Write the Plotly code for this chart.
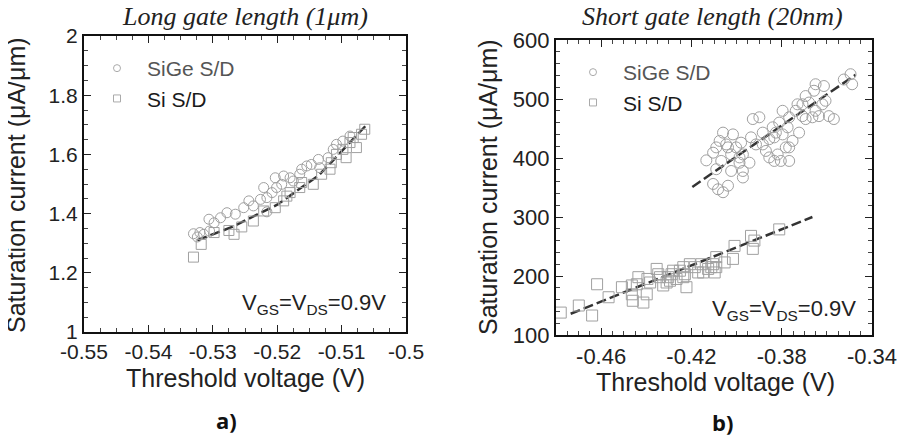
import plotly.graph_objects as go

W, H = 905, 438
PAGE_OFFSET = 8  # the page body margin shifts the figure by 8px

# ---- panel a) long gate length (1um) ----
long_sige_vt = [-0.5330, -0.5324, -0.5320, -0.5314, -0.5306, -0.5305, -0.5298, -0.5288, -0.5278, -0.5265,
                -0.5252, -0.5244, -0.5237, -0.5226, -0.5221, -0.5216, -0.5216, -0.5208, -0.5203, -0.5201,
                -0.5193, -0.5190, -0.5180, -0.5175, -0.5165, -0.5162, -0.5154, -0.5147, -0.5136, -0.5134,
                -0.5121, -0.5113, -0.5108, -0.5098, -0.5087]
long_sige_id = [1.332, 1.321, 1.336, 1.330, 1.381, 1.341, 1.369, 1.386, 1.403, 1.398,
                1.420, 1.443, 1.426, 1.448, 1.488, 1.454, 1.406, 1.471, 1.521, 1.488,
                1.499, 1.527, 1.521, 1.510, 1.533, 1.550, 1.561, 1.566, 1.583, 1.555,
                1.589, 1.617, 1.634, 1.645, 1.662]

long_si_vt = [-0.5330, -0.5318, -0.5298, -0.5275, -0.5267, -0.5255, -0.5237, -0.5221, -0.5203, -0.5190,
              -0.5185, -0.5180, -0.5165, -0.5162, -0.5144, -0.5131, -0.5118, -0.5116, -0.5108, -0.5098,
              -0.5093, -0.5087, -0.5082, -0.5077, -0.5069, -0.5064]
long_si_id = [1.253, 1.296, 1.336, 1.343, 1.330, 1.355, 1.375, 1.409, 1.420, 1.443,
              1.459, 1.471, 1.488, 1.505, 1.499, 1.533, 1.550, 1.572, 1.600, 1.617,
              1.589, 1.640, 1.657, 1.623, 1.668, 1.685]

long_fit_vt = [-0.5324, -0.5270, -0.5200, -0.5135, -0.5059]
long_fit_id = [1.310, 1.355, 1.430, 1.530, 1.705]

# ---- panel b) short gate length (20nm) ----
short_sige_vt = [-0.4134, -0.4104, -0.4090, -0.4075, -0.4060, -0.4038, -0.4024, -0.4016, -0.3987, -0.3980,
                 -0.3972, -0.3987, -0.4104, -0.4082, -0.4060, -0.4038, -0.4090, -0.4068, -0.4024, -0.3972,
                 -0.3943, -0.3936, -0.3928, -0.3899, -0.3914, -0.3884, -0.3870, -0.3855, -0.3840, -0.3833,
                 -0.3818, -0.3811, -0.3796, -0.3782, -0.3774, -0.3767, -0.3752, -0.3738, -0.3730, -0.3723,
                 -0.3708, -0.3694, -0.3694, -0.3679, -0.3664, -0.3657, -0.3650, -0.3635, -0.3620, -0.3613,
                 -0.3591, -0.3569, -0.3525, -0.3495, -0.3488, -0.3833, -0.3804, -0.3767, -0.3767, -0.3826,
                 -0.3972, -0.4002, -0.4046, -0.3884, -0.3855, -0.3796, -0.3708, -0.3606, -0.3650]
short_sige_id = [396, 409, 418, 429, 443, 418, 406, 440, 401, 426,
                 378, 392, 356, 347, 342, 353, 381, 395, 378, 367,
                 392, 435, 466, 469, 423, 443, 412, 432, 452, 435,
                 406, 460, 440, 418, 452, 469, 429, 480, 491, 443,
                 471, 505, 466, 494, 469, 514, 480, 471, 491, 522,
                 471, 466, 533, 542, 525, 395, 395, 395, 418, 443,
                 406, 418, 423, 423, 401, 480, 491, 497, 525]

short_si_vt = [-0.4779, -0.4699, -0.4640, -0.4618, -0.4567, -0.4508, -0.4464, -0.4464, -0.4460, -0.4435,
               -0.4413, -0.4398, -0.4395, -0.4383, -0.4347, -0.4339, -0.4325, -0.4310, -0.4295, -0.4288,
               -0.4281, -0.4266, -0.4236, -0.4229, -0.4222, -0.4207, -0.4185, -0.4170, -0.4156, -0.4126,
               -0.4112, -0.4104, -0.4097, -0.4090, -0.4053, -0.4016, -0.4009, -0.3936, -0.3928, -0.3921,
               -0.3811, -0.4354, -0.4236, -0.4148, -0.4303, -0.4251, -0.4442, -0.4090]
short_si_id = [138, 150, 133, 186, 164, 181, 184, 169, 158, 198,
               155, 169, 195, 189, 203, 198, 184, 189, 192, 203,
               209, 195, 198, 203, 181, 220, 215, 206, 220, 212,
               215, 220, 206, 232, 223, 229, 251, 268, 246, 260,
               279, 212, 215, 206, 198, 209, 186, 215]

short_sige_fit_vt = [-0.4196, -0.3473]
short_sige_fit_id = [351, 541]
short_si_fit_vt = [-0.4735, -0.3664]
short_si_fit_id = [136, 300]

# tick labels (hyphen minus as in the original figure)
long_x_text = ["-0.55", "-0.54", "-0.53", "-0.52", "-0.51", "-0.5"]
short_x_text = ["-0.46", "-0.42", "-0.38", "-0.34"]

FONT = "Liberation Sans, Arial, sans-serif"
MARK = "#a0a0a0"
FIT = "#333333"


def px_x(p):
    return (p - PAGE_OFFSET) / W


def px_y(p):
    return 1 - (p - PAGE_OFFSET) / H


def axis(dom, rng, tick0, dtick, minor_dtick, size, anchor, labels=None):
    ax = dict(
        domain=dom, range=rng, anchor=anchor, automargin=False,
        tickmode="linear", tick0=tick0, dtick=dtick,
        ticks="inside", ticklen=7, tickwidth=1.3, tickcolor="#222",
        minor=dict(ticks="inside", ticklen=4, tickwidth=1, tickcolor="#444",
                   dtick=minor_dtick, tick0=rng[0], showgrid=False),
        showline=True, linewidth=2.2, linecolor="#111", mirror="allticks",
        showgrid=False, zeroline=False,
        tickfont=dict(family=FONT, size=size, color="#222"),
    )
    if labels:
        ax["labelalias"] = {t.replace("-", "\u2212"): t for t in labels}
    return ax


fig = go.Figure()


def scatter(x, y, symbol, size, xa, ya):
    fig.add_trace(go.Scatter(
        x=x, y=y, mode="markers", xaxis=xa, yaxis=ya, showlegend=False,
        marker=dict(symbol=symbol, size=size, color=MARK, line=dict(color=MARK, width=1)),
        hoverinfo="skip"))


def fit(x, y, xa, ya):
    fig.add_trace(go.Scatter(
        x=x, y=y, mode="lines", xaxis=xa, yaxis=ya, showlegend=False,
        line=dict(color=FIT, width=2.5, dash="10px,4px"), hoverinfo="skip"))


def legend_entry(name, symbol, color, xa, ya, leg):
    fig.add_trace(go.Scatter(
        x=[None], y=[None], mode="markers", xaxis=xa, yaxis=ya, legend=leg,
        name=f"<span style='color:{color}'>{name}</span>",
        marker=dict(symbol=symbol, size=7, color="#aaaaaa", line=dict(color="#aaaaaa", width=1))))


# panel a
fit(long_fit_vt, long_fit_id, "x", "y")
scatter(long_sige_vt, long_sige_id, "circle-open", 10, "x", "y")
scatter(long_si_vt, long_si_id, "square-open", 10, "x", "y")
legend_entry("SiGe S/D", "circle-open", "#555", "x", "y", "legend")
legend_entry("Si S/D", "square-open", "#1a1a1a", "x", "y", "legend")

# panel b
fit(short_sige_fit_vt, short_sige_fit_id, "x2", "y2")
fit(short_si_fit_vt, short_si_fit_id, "x2", "y2")
scatter(short_sige_vt, short_sige_id, "circle-open", 11, "x2", "y2")
scatter(short_si_vt, short_si_id, "square-open", 11, "x2", "y2")
legend_entry("SiGe S/D", "circle-open", "#555", "x2", "y2", "legend2")
legend_entry("Si S/D", "square-open", "#1a1a1a", "x2", "y2", "legend2")

leg_style = dict(font=dict(family=FONT, size=21), bgcolor="rgba(0,0,0,0)",
                 xanchor="left", yanchor="top", itemwidth=50, tracegroupgap=0)

annotations = []


def text(t, x, y, size, family=FONT, color="#222", angle=0, bold=False, italic=False, xanchor="center"):
    if bold:
        t = f"<b>{t}</b>"
    if italic:
        t = f"<i>{t}</i>"
    annotations.append(dict(text=t, x=px_x(x), y=px_y(y), xref="paper", yref="paper",
                            xanchor=xanchor, yanchor="middle", showarrow=False, textangle=angle,
                            font=dict(family=family, size=size, color=color)))


SERIF = "Liberation Serif, Times New Roman, serif"
text("Long gate length (1μm)", 245, 17, 26, family=SERIF, italic=True)
text("Short gate length (20nm)", 712, 17, 26, family=SERIF, italic=True)
text("Saturation current (μA/μm)", 16, 185, 25, angle=-90)
text("Saturation current (μA/μm)", 488, 187, 25, angle=-90)
text("Threshold voltage (V)", 245, 378, 25)
text("Threshold voltage (V)", 715, 382, 25)
text("V<sub>GS</sub>=V<sub>DS</sub>=0.9V", 388, 304, 22, xanchor="right")
text("V<sub>GS</sub>=V<sub>DS</sub>=0.9V", 858, 310, 22, xanchor="right")
text("a)", 226, 420, 22, family="Open Sans, sans-serif", color="#111", bold=True)
text("b)", 722, 422, 22, family="Open Sans, sans-serif", color="#111", bold=True)

fig.update_layout(
    width=W, height=H, autosize=False,
    margin=dict(l=0, r=0, t=0, b=0),
    paper_bgcolor="white", plot_bgcolor="white",
    xaxis=axis([px_x(84), px_x(406)], [-0.55, -0.5], -0.55, 0.01, 0.0025, 21, "y", long_x_text),
    yaxis=axis([px_y(332), px_y(36)], [1, 2], 1, 0.2, 0.05, 21, "x"),
    xaxis2=axis([px_x(556), px_x(872)], [-0.48, -0.34], -0.46, 0.04, 0.005, 22, "y2", short_x_text),
    yaxis2=axis([px_y(335), px_y(40)], [100, 600], 100, 100, 20, 22, "x2"),
    legend=dict(x=px_x(87), y=px_y(48), **leg_style),
    legend2=dict(x=px_x(563), y=px_y(52), **leg_style),
    annotations=annotations,
)

fig.write_html("out.html")
